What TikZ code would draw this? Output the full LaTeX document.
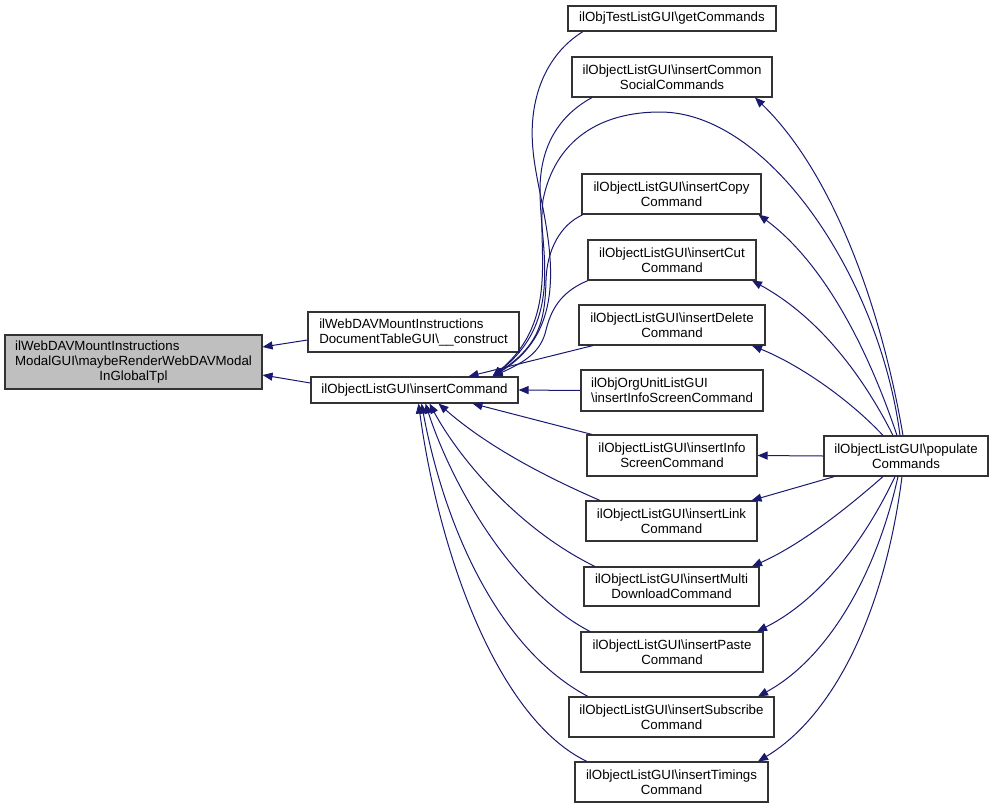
\documentclass[tikz,border=0pt]{standalone}
\usepackage{fontspec}
\setmainfont{Liberation Sans}
\usetikzlibrary{arrows.meta,calc}
\definecolor{edgeblue}{HTML}{191970}
\definecolor{mainfill}{HTML}{BFBFBF}
\begin{document}
\begin{tikzpicture}[x=1pt,y=-1pt,
  box/.style={draw=black!80,line width=1.1pt,inner sep=0pt,minimum height=40pt,align=center,
    font=\fontsize{13.3}{15}\selectfont,fill=white},
  edge/.style={draw=edgeblue,line width=1pt,-{Triangle[length=10pt,width=8pt]}}]
\useasboundingbox (0,0) rectangle (993,809);
% left
\node[box,fill=mainfill,minimum width=257pt,minimum height=54pt] (main) at (133.5,362)
  {\begin{tabular}{@{}l@{}}ilWebDAVMountInstructions\\ModalGUI\textbackslash maybeRenderWebDAVModal\\\multicolumn{1}{@{}c@{}}{InGlobalTpl}\end{tabular}};
\node[box,align=left,minimum width=211pt] (cons) at (413.5,332)
  {ilWebDAVMountInstructions\\DocumentTableGUI\textbackslash\_\_construct};
\node[box,minimum width=207pt,minimum height=26pt] (ins) at (414.5,390)
  {ilObjectListGUI\textbackslash insertCommand};
% right column
\node[box,minimum width=208pt,minimum height=25pt] (get) at (672,18.5)
  {ilObjTestListGUI\textbackslash getCommands};
\node[box,minimum width=200pt] (com) at (672,77)
  {ilObjectListGUI\textbackslash insertCommon\\SocialCommands};
\node[box,minimum width=179pt] (copy) at (671.5,194)
  {ilObjectListGUI\textbackslash insertCopy\\Command};
\node[box,minimum width=168pt] (cut) at (672,260)
  {ilObjectListGUI\textbackslash insertCut\\Command};
\node[box,minimum width=186pt] (del) at (672,325)
  {ilObjectListGUI\textbackslash insertDelete\\Command};
\node[box,align=left,minimum width=182pt,minimum height=41pt] (org) at (672,390.5)
  {ilObjOrgUnitListGUI\\\textbackslash insertInfoScreenCommand};
\node[box,minimum width=170pt,minimum height=41pt] (info) at (672,455.5)
  {ilObjectListGUI\textbackslash insertInfo\\ScreenCommand};
\node[box,minimum width=171pt] (link) at (671.5,521)
  {ilObjectListGUI\textbackslash insertLink\\Command};
\node[box,minimum width=175pt,minimum height=39pt] (multi) at (671.5,586.5)
  {ilObjectListGUI\textbackslash insertMulti\\DownloadCommand};
\node[box,minimum width=182pt] (paste) at (672,652)
  {ilObjectListGUI\textbackslash insertPaste\\Command};
\node[box,minimum width=205pt] (sub) at (671.5,717)
  {ilObjectListGUI\textbackslash insertSubscribe\\Command};
\node[box,minimum width=193pt] (tim) at (671.5,782)
  {ilObjectListGUI\textbackslash insertTimings\\Command};
\node[box,minimum width=164pt] (pop) at (906,456)
  {ilObjectListGUI\textbackslash populate\\Commands};
% edges to main
\draw[edge] ($(cons.west)+(0,8)$) -- ($(main.east)+(0,-15)$);
\draw[edge] ($(ins.west)+(0,-7)$) -- ($(main.east)+(0,13)$);
% edges into insertCommand (top)
\draw[edge] ($(get.south)+(-89,0)$) .. controls (545,55) and (528,100) .. (533,150)
  .. controls (538,210) and (585,320) .. ($(ins.north)+(78,0)$);
\draw[edge] ($(com.south)+(-80,0)$) .. controls (560,115) and (540,145) .. (540,190)
  .. controls (540,250) and (565,320) .. ($(ins.north)+(78,0)$);
\draw[edge] ($(pop.north)+(-6,0)$) .. controls (880,280) and (770,112) .. (660,112)
  .. controls (600,112) and (555,140) .. (543,200)
  .. controls (537,250) and (560,320) .. ($(ins.north)+(78,0)$);
\draw[edge] ($(copy.south)+(-88.5,0)$) .. controls (560,225) and (547,250) .. (546,280)
  .. controls (545,320) and (540,345) .. ($(ins.north)+(78,0)$);
\draw[edge] ($(cut.south)+(-84,0)$) .. controls (565,290) and (552,305) .. (546,330)
  .. controls (541,352) and (525,362) .. ($(ins.north)+(78,0)$);
\draw[edge] ($(del.south)+(-79,0)$) -- ($(ins.north)+(54,0)$);
% right side
\draw[edge] (org.west) -- (ins.east);
% bottom
\draw[edge] ($(info.north)+(-80,0)$) -- ($(ins.south)+(58,0)$);
\draw[edge] ($(link.north)+(-71.5,0)$) .. controls (530,470) and (480,440) .. ($(ins.south)+(24,0)$);
\draw[edge] ($(multi.north)+(-76.5,0)$) .. controls (520,530) and (460,460) .. ($(ins.south)+(15,0)$);
\draw[edge] ($(paste.north)+(-82,0)$) .. controls (510,590) and (450,480) .. ($(ins.south)+(11,0)$);
\draw[edge] ($(sub.north)+(-83.5,0)$) .. controls (500,650) and (445,530) .. ($(ins.south)+(7,0)$);
\draw[edge] ($(tim.north)+(-84.5,0)$) .. controls (500,720) and (440,560) .. ($(ins.south)+(4,0)$);
% populate edges
\draw[edge] ($(pop.north)+(-3,0)$) .. controls (880,300) and (830,170) .. ($(com.south)+(83,0)$);
\draw[edge] ($(pop.north)+(-9,0)$) .. controls (865,340) and (820,260) .. ($(copy.south)+(87,0)$);
\draw[edge] ($(pop.north)+(-13,0)$) .. controls (860,370) and (815,315) .. ($(cut.south)+(80,0)$);
\draw[edge] ($(pop.north)+(-23,0)$) .. controls (850,400) and (800,365) .. ($(del.south)+(80,0)$);
\draw[edge] (pop.west) -- (info.east);
\draw[edge] ($(pop.south west)+(11,0)$) -- ($(link.north)+(80,0)$);
\draw[edge] ($(pop.south)+(-23,0)$) .. controls (845,510) and (800,545) .. ($(multi.north)+(80.5,0)$);
\draw[edge] ($(pop.south)+(-11,0)$) .. controls (865,540) and (820,600) .. ($(paste.north)+(85,0)$);
\draw[edge] ($(pop.south)+(-8,0)$) .. controls (875,580) and (825,660) .. ($(sub.north)+(86.5,0)$);
\draw[edge] ($(pop.south)+(-4,0)$) .. controls (885,610) and (835,715) .. ($(tim.north)+(86.5,0)$);
\end{tikzpicture}
\end{document}
